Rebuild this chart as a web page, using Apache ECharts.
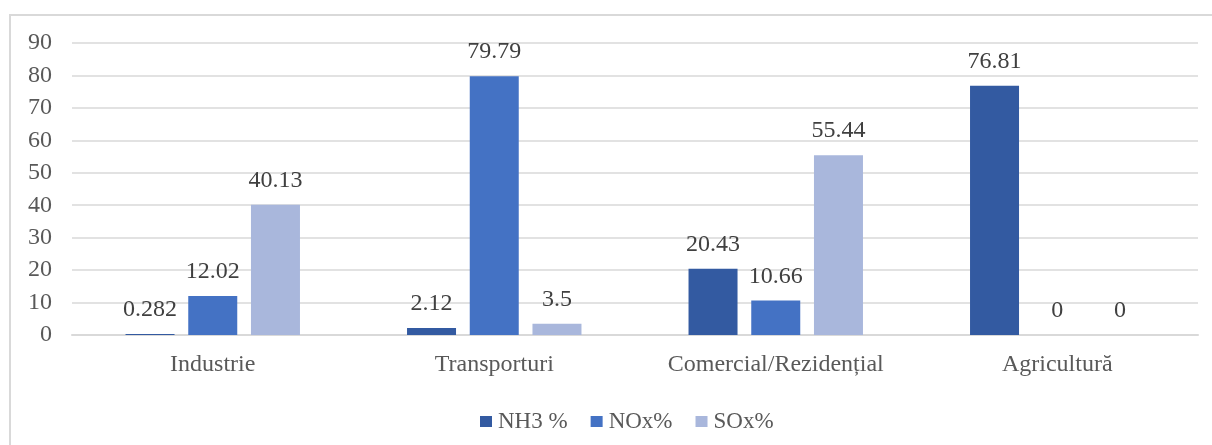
<!DOCTYPE html>
<html>
<head>
<meta charset="utf-8">
<script src="https://cdn.jsdelivr.net/npm/echarts@6/dist/echarts.min.js"></script>
<style>
  html, body { margin: 0; padding: 0; background: #fff; }
  #chart { width: 1212px; height: 445px; }
</style>
</head>
<body>
<div id="chart"></div>
<script>
var categories = ['Industrie', 'Transporturi', 'Comercial/Rezidențial', 'Agricultură'];
var nh3Values = [0.282, 2.12, 20.43, 76.81];
var noxValues = [12.02, 79.79, 10.66, 0];
var soxValues = [40.13, 3.5, 55.44, 0];
var yTicks = [0, 10, 20, 30, 40, 50, 60, 70, 80, 90];

var fontFamily = '"Liberation Serif", "Times New Roman", serif';
var fontSize = 24;

var chart = echarts.init(document.getElementById('chart'));

// étiquettes des barres
var barLabel = {
  show: true,
  position: 'top',
  distance: 12,
  color: '#404040',
  fontFamily: fontFamily,
  fontSize: fontSize
};

var makeSeries = function (name, data, color) {
  return {
    name: name,
    type: 'bar',
    data: data,
    barWidth: 49,
    barGap: '28%',
    itemStyle: { color: color },
    label: barLabel
  };
};

var option = {
  animation: false,
  backgroundColor: '#fff',
  graphic: [{
    type: 'rect',
    shape: { x: 10, y: 15, width: 1220, height: 460 },
    style: { fill: 'none', stroke: '#d9d9d9', lineWidth: 2 },
    silent: true
  }],
  grid: {
    left: 72,
    right: 14,
    top: 43,
    bottom: 110
  },
  legend: {
    left: 475,
    top: 405,
    itemWidth: 12,
    itemHeight: 11,
    itemGap: 23,
    icon: 'rect',
    textStyle: {
      color: '#595959',
      fontFamily: fontFamily,
      fontSize: 23,
      padding: [0, 0, 0, 1]
    },
    data: ['NH3 %', 'NOx%', 'SOx%']
  },
  xAxis: {
    type: 'category',
    data: categories,
    axisLine: { lineStyle: { color: '#d9d9d9', width: 2 } },
    axisTick: { show: false },
    axisLabel: {
      color: '#595959',
      fontFamily: fontFamily,
      fontSize: fontSize,
      margin: 18
    }
  },
  yAxis: {
    type: 'value',
    min: yTicks[0],
    max: yTicks[yTicks.length - 1],
    interval: 10,
    axisLine: { show: false },
    axisTick: { show: false },
    splitLine: { lineStyle: { color: '#d9d9d9', width: 1.5 } },
    axisLabel: {
      color: '#595959',
      fontFamily: fontFamily,
      fontSize: fontSize,
      margin: 20
    }
  },
  series: [
    makeSeries('NH3 %', nh3Values, '#335AA1'),
    makeSeries('NOx%', noxValues, '#4472C4'),
    makeSeries('SOx%', soxValues, '#A9B7DC')
  ]
};

chart.setOption(option);
</script>
</body>
</html>
